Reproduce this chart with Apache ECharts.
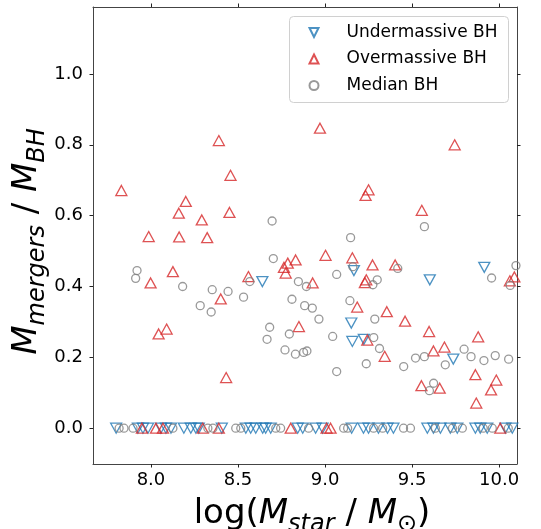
<!DOCTYPE html>
<html>
<head>
<meta charset="utf-8">
<script src="https://cdn.jsdelivr.net/npm/echarts@6/dist/echarts.min.js"></script>
<style>html,body{margin:0;padding:0;background:#fff}#c{width:541px;height:529px}</style>
</head>
<body>
<div id="c"></div>
<script>
// ---- data ----
const seriesNames = ['Undermassive BH', 'Overmassive BH', 'Median BH'];

const underX = [8.64, 9.602, 9.915, 9.166, 9.151, 9.157, 9.223, 9.737,
  7.80, 7.925, 7.954, 7.983, 8.057, 8.086, 8.115, 8.189, 8.229, 8.258, 8.275, 8.407,
  8.545, 8.573, 8.602, 8.642, 8.659, 8.688, 8.843, 8.872, 8.946, 8.986, 9.153, 9.221,
  9.25, 9.307, 9.359, 9.393, 9.588, 9.623, 9.663, 9.72, 9.76, 9.864, 9.892, 9.932,
  10.036, 10.076];
const underY = [0.414, 0.419, 0.454, 0.445, 0.297, 0.245, 0.251, 0.195,
  0, 0, 0, 0, 0, 0, 0, 0, 0, 0, 0, 0,
  0, 0, 0, 0, 0, 0, 0, 0, 0, 0, 0, 0,
  0, 0, 0, 0, 0, 0, 0, 0, 0, 0, 0, 0,
  0, 0];

const overX = [8.971, 8.39, 9.745, 7.83, 8.457, 9.25, 9.233, 8.20, 8.16, 8.451,
  9.556, 8.292, 7.987, 8.162, 8.323, 9.003, 8.831, 8.786, 8.764, 8.774,
  9.157, 9.273, 9.403, 8.126, 8.56, 7.998, 8.929, 9.237, 9.229, 10.062,
  10.088, 8.401, 8.044, 8.09, 8.432, 8.85, 9.185, 9.355, 9.46, 9.598,
  9.88, 9.243, 9.343, 9.623, 9.686, 9.554, 9.659, 9.864, 9.984, 9.954,
  9.869,
  7.948, 8.029, 8.069, 8.298, 8.39, 8.803, 9.009, 9.032, 10.007];
const overY = [0.847, 0.812, 0.80, 0.671, 0.714, 0.673, 0.657, 0.640, 0.607, 0.609,
  0.615, 0.588, 0.541, 0.540, 0.538, 0.488, 0.475, 0.466, 0.454, 0.438,
  0.481, 0.461, 0.461, 0.442, 0.428, 0.41, 0.41, 0.419, 0.411, 0.416,
  0.427, 0.365, 0.266, 0.28, 0.143, 0.287, 0.342, 0.329, 0.302, 0.273,
  0.258, 0.249, 0.203, 0.218, 0.229, 0.12, 0.113, 0.151, 0.136, 0.108,
  0.071,
  0, 0, 0, 0, 0, 0, 0, 0, 0];

const medianX = [8.696, 9.571, 9.147, 8.703, 7.92, 7.912, 9.16, 9.418, 10.097, 9.067,
  8.568, 8.847, 9.957, 9.30, 9.275, 10.064, 8.893, 8.182, 8.352, 8.443,
  8.283, 8.346, 8.532, 8.81, 8.883, 8.927, 8.965, 8.682, 8.667, 8.795,
  8.77, 8.83, 8.877, 8.896, 9.143, 9.286, 9.044, 9.067, 9.28, 9.313,
  9.237, 9.452, 9.52, 9.571, 9.691, 9.799, 9.839, 9.913, 9.978, 10.055,
  9.624, 9.6,
  7.817, 7.845, 7.897, 8.126, 8.327, 8.356, 8.487, 8.516, 8.717, 8.745,
  8.906, 9.107, 9.13, 9.279, 9.331, 9.451, 9.491, 9.634, 9.732, 9.789,
  9.909, 9.961, 10.053];
const medianY = [0.585, 0.569, 0.538, 0.479, 0.445, 0.423, 0.456, 0.451, 0.459, 0.434,
  0.414, 0.414, 0.424, 0.419, 0.405, 0.403, 0.40, 0.40, 0.391, 0.386,
  0.346, 0.328, 0.37, 0.364, 0.346, 0.339, 0.308, 0.285, 0.251, 0.266,
  0.221, 0.209, 0.214, 0.218, 0.36, 0.308, 0.259, 0.16, 0.256, 0.225,
  0.182, 0.174, 0.198, 0.202, 0.179, 0.223, 0.202, 0.191, 0.205, 0.195,
  0.127, 0.106,
  0, 0, 0, 0, 0, 0, 0, 0, 0, 0,
  0, 0, 0, 0, 0, 0, 0, 0, 0, 0,
  0, 0, 0];

const xTicks = [8.0, 8.5, 9.0, 9.5, 10.0];
const yTicks = [0.0, 0.2, 0.4, 0.6, 0.8, 1.0];
const xRange = [7.667, 10.103];
const yRange = [-0.101, 1.189];

// ---- chart ----
const pair = (xs, ys) => xs.map((x, i) => [x, ys[i]]);
const FONT = 'DejaVu Sans';
const frameColor = '#444';
const downTri = 'path://M0,0 L10,0 L5,10 Z';

function titleRich(extra) {
  const main = {fontFamily: FONT, fontSize: 34, color: '#000', verticalAlign: 'bottom', padding: [0, 0, 6, 0]};
  const sub = {fontFamily: FONT, fontSize: 24, color: '#000', verticalAlign: 'bottom'};
  return Object.assign({
    r: main,
    i: Object.assign({}, main, {fontStyle: 'italic'}),
    s: Object.assign({}, sub, {fontStyle: 'italic'}),
    o: sub
  }, extra);
}

const baseAxis = {
  axisLine: {show: true, onZero: false, lineStyle: {color: frameColor, width: 1}},
  axisTick: {show: true, inside: false, length: 3.5, lineStyle: {color: '#222', width: 1}},
  splitLine: {show: false}
};

const chart = echarts.init(document.getElementById('c'), null, {renderer: 'canvas'});
chart.setOption({
  animation: false,
  backgroundColor: '#fff',
  grid: {left: 93, right: 24, top: 7, bottom: 65, containLabel: false, outerBoundsMode: 'none'},
  xAxis: [
    Object.assign({}, baseAxis, {
      type: 'value', position: 'bottom', min: xRange[0], max: xRange[1],
      axisTick: Object.assign({}, baseAxis.axisTick, {customValues: xTicks}),
      axisLabel: {customValues: xTicks, formatter: v => v.toFixed(1), fontFamily: FONT, fontSize: 18, color: '#000', margin: 7},
      name: '{r0|log(}{i|M}{s|star}{r| / }{i|M}{o|⊙}{r|)}',
      nameLocation: 'middle', nameGap: 33, nameMoveOverlap: false,
      nameTextStyle: {rich: titleRich({
        r0: {fontFamily: FONT, fontSize: 34, color: '#000', verticalAlign: 'bottom', padding: [0, 0, 6, 14]}
      })}
    }),
    Object.assign({}, baseAxis, {
      type: 'value', position: 'top', min: xRange[0], max: xRange[1],
      axisTick: Object.assign({}, baseAxis.axisTick, {customValues: xTicks}),
      axisLabel: {show: false, customValues: xTicks}
    })
  ],
  yAxis: [
    Object.assign({}, baseAxis, {
      type: 'value', position: 'left', min: yRange[0], max: yRange[1],
      axisTick: Object.assign({}, baseAxis.axisTick, {customValues: yTicks}),
      axisLabel: {customValues: yTicks, formatter: v => v.toFixed(1), fontFamily: FONT, fontSize: 18, color: '#000', margin: 10},
      name: '{i|M}{s|mergers}{r| / }{i|M}{s1|BH}',
      nameLocation: 'middle', nameGap: 43, nameMoveOverlap: false,
      nameTextStyle: {rich: titleRich({
        s1: {fontFamily: FONT, fontSize: 24, color: '#000', fontStyle: 'italic', verticalAlign: 'bottom', padding: [0, 12, 0, 0]}
      })}
    }),
    Object.assign({}, baseAxis, {
      type: 'value', position: 'right', min: yRange[0], max: yRange[1],
      axisTick: Object.assign({}, baseAxis.axisTick, {customValues: yTicks}),
      axisLabel: {show: false, customValues: yTicks}
    })
  ],
  legend: {
    orient: 'vertical', left: 308.5, top: 24, padding: 0,
    itemWidth: 9, itemHeight: 9, itemGap: 9.5,
    textStyle: {fontFamily: FONT, fontSize: 17, color: '#000', padding: [0, 0, 0, 23]},
    data: [
      {name: seriesNames[0], icon: downTri},
      {name: seriesNames[1], icon: 'triangle'},
      {name: seriesNames[2], icon: 'circle'}
    ]
  },
  graphic: [{
    type: 'rect', z: 3, left: 289, top: 16,
    shape: {width: 219, height: 86, r: 4},
    style: {fill: 'rgba(255,255,255,0.8)', stroke: '#d0d0d0', lineWidth: 1}
  }],
  series: [
    {
      name: seriesNames[0], type: 'scatter', data: pair(underX, underY),
      symbol: downTri, symbolSize: [11, 10],
      itemStyle: {color: 'rgba(0,0,0,0)', borderColor: '#1f77b4', borderWidth: 1.3}
    },
    {
      name: seriesNames[1], type: 'scatter', data: pair(overX, overY),
      symbol: 'triangle', symbolSize: [11, 10],
      itemStyle: {color: 'rgba(0,0,0,0)', borderColor: '#d62728', borderWidth: 1.3}
    },
    {
      name: seriesNames[2], type: 'scatter', data: pair(medianX, medianY),
      symbol: 'circle', symbolSize: 8,
      itemStyle: {color: 'rgba(0,0,0,0)', borderColor: '#7f7f7f', borderWidth: 1.3}
    }
  ]
});
</script>
</body>
</html>
